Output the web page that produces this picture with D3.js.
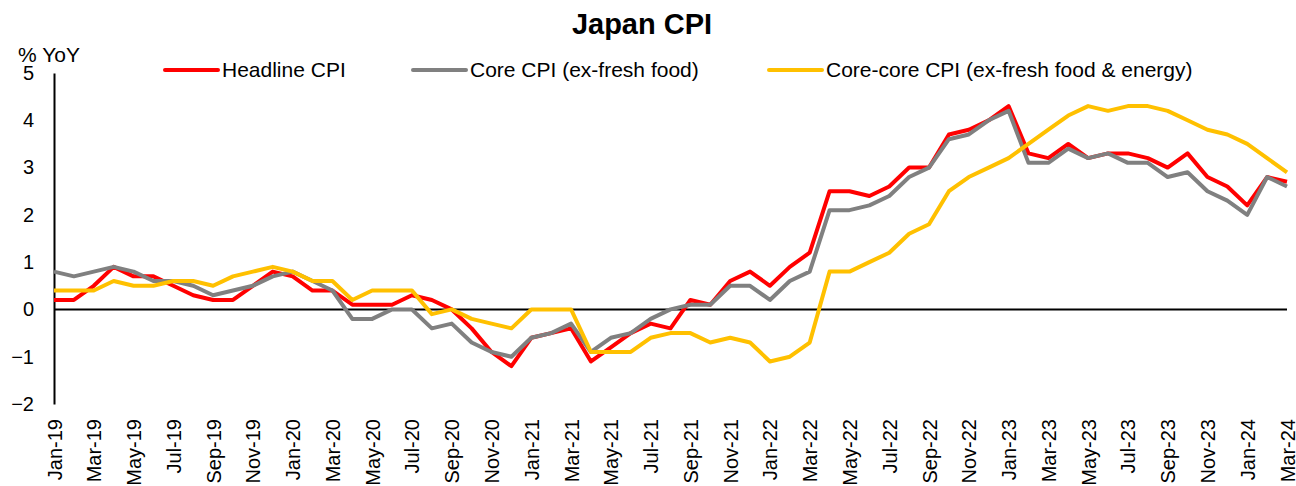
<!DOCTYPE html>
<html>
<head>
<meta charset="utf-8">
<script src="https://cdn.jsdelivr.net/npm/d3@7"></script>
<style>
  body { margin: 0; background: #fff; }
  svg text { font-family: "Liberation Sans", Arial, sans-serif; fill: #000; }
</style>
</head>
<body>
<div id="chart"></div>
<script>
// month labels, Jan-19 .. Mar-24
var months = ["Jan-19","Feb-19","Mar-19","Apr-19","May-19","Jun-19","Jul-19","Aug-19","Sep-19","Oct-19","Nov-19","Dec-19",
  "Jan-20","Feb-20","Mar-20","Apr-20","May-20","Jun-20","Jul-20","Aug-20","Sep-20","Oct-20","Nov-20","Dec-20",
  "Jan-21","Feb-21","Mar-21","Apr-21","May-21","Jun-21","Jul-21","Aug-21","Sep-21","Oct-21","Nov-21","Dec-21",
  "Jan-22","Feb-22","Mar-22","Apr-22","May-22","Jun-22","Jul-22","Aug-22","Sep-22","Oct-22","Nov-22","Dec-22",
  "Jan-23","Feb-23","Mar-23","Apr-23","May-23","Jun-23","Jul-23","Aug-23","Sep-23","Oct-23","Nov-23","Dec-23",
  "Jan-24","Feb-24","Mar-24"];

var headline = [0.2,0.2,0.5,0.9,0.7,0.7,0.5,0.3,0.2,0.2,0.5,0.8,
  0.7,0.4,0.4,0.1,0.1,0.1,0.3,0.2,0.0,-0.4,-0.9,-1.2,
  -0.6,-0.5,-0.4,-1.1,-0.8,-0.5,-0.3,-0.4,0.2,0.1,0.6,0.8,
  0.5,0.9,1.2,2.5,2.5,2.4,2.6,3.0,3.0,3.7,3.8,4.0,
  4.3,3.3,3.2,3.5,3.2,3.3,3.3,3.2,3.0,3.3,2.8,2.6,
  2.2,2.8,2.7];

var core = [0.8,0.7,0.8,0.9,0.8,0.6,0.6,0.5,0.3,0.4,0.5,0.7,
  0.8,0.6,0.4,-0.2,-0.2,0.0,0.0,-0.4,-0.3,-0.7,-0.9,-1.0,
  -0.6,-0.5,-0.3,-0.9,-0.6,-0.5,-0.2,0.0,0.1,0.1,0.5,0.5,
  0.2,0.6,0.8,2.1,2.1,2.2,2.4,2.8,3.0,3.6,3.7,4.0,
  4.2,3.1,3.1,3.4,3.2,3.3,3.1,3.1,2.8,2.9,2.5,2.3,
  2.0,2.8,2.6];

var coreCore = [0.4,0.4,0.4,0.6,0.5,0.5,0.6,0.6,0.5,0.7,0.8,0.9,
  0.8,0.6,0.6,0.2,0.4,0.4,0.4,-0.1,0.0,-0.2,-0.3,-0.4,
  0.0,0.0,0.0,-0.9,-0.9,-0.9,-0.6,-0.5,-0.5,-0.7,-0.6,-0.7,
  -1.1,-1.0,-0.7,0.8,0.8,1.0,1.2,1.6,1.8,2.5,2.8,3.0,
  3.2,3.5,3.8,4.1,4.3,4.2,4.3,4.3,4.2,4.0,3.8,3.7,
  3.5,3.2,2.9];

var seriesNames = ["Headline CPI", "Core CPI (ex-fresh food)", "Core-core CPI (ex-fresh food & energy)"];
var yTicks = [-2, -1, 0, 1, 2, 3, 4, 5];

var colors = ["#ff0000", "#808080", "#ffc000"];
var seriesData = [headline, core, coreCore];

var svgWidth = 1296;
var svgHeight = 486;

var svg = d3.select("#chart")
    .append("svg")
    .attr("width", svgWidth)
    .attr("height", svgHeight);

// plot area edges
var x0 = 54, x1 = 1287, yTop = 73, yBottom = 404;

var xScale = d3.scalePoint()
    .domain(months)
    .range([x0, x1]);

var yScale = d3.scaleLinear()
    .domain([-2, 5])
    .range([yBottom, yTop]);

// title
svg.append("text")
    .attr("x", 642)
    .attr("y", 34)
    .attr("text-anchor", "middle")
    .style("font-size", "29px")
    .style("font-weight", "bold")
    .text("Japan CPI");

// unit label
svg.append("text")
    .attr("x", 18)
    .attr("y", 62)
    .style("font-size", "21px")
    .text("% YoY");

// y axis
var yAxis = svg.append("g")
    .attr("transform", `translate(${x0}, 0)`)
    .call(d3.axisLeft(yScale).tickValues(yTicks).tickSize(0).tickPadding(20).tickFormat(d3.format("d")));
yAxis.select(".domain").attr("stroke", "#000").attr("stroke-width", 2);
yAxis.selectAll("text").style("font-size", "20px").attr("font-family", null);

// x axis labels (every 2nd month), at bottom
var xAxis = svg.append("g")
    .attr("transform", `translate(0, ${yBottom})`)
    .call(d3.axisBottom(xScale).tickValues(months.filter((d, i) => i % 2 === 0)).tickSize(0));
xAxis.select(".domain").remove();
xAxis.selectAll("text")
    .attr("font-family", null)
    .style("font-size", "20px")
    .attr("text-anchor", "end")
    .attr("transform", "rotate(-90)")
    .attr("x", -15)
    .attr("y", 0)
    .attr("dy", "0.35em");

// zero line
svg.append("line")
    .attr("x1", x0)
    .attr("x2", x1)
    .attr("y1", yScale(0))
    .attr("y2", yScale(0))
    .attr("stroke", "#000")
    .attr("stroke-width", 2);

// series lines
var line = d3.line()
    .x((d, i) => xScale(months[i]))
    .y(d => yScale(d));

seriesData.forEach(function(values, k) {
    svg.append("path")
        .datum(values)
        .attr("d", line)
        .attr("fill", "none")
        .attr("stroke", colors[k])
        .attr("stroke-width", 4)
        .attr("stroke-linejoin", "round");
});

// legend
var legendX = [165, 413, 769];
seriesNames.forEach(function(name, k) {
    svg.append("line")
        .attr("x1", legendX[k])
        .attr("x2", legendX[k] + 53)
        .attr("y1", 70)
        .attr("y2", 70)
        .attr("stroke", colors[k])
        .attr("stroke-width", 4)
        .attr("stroke-linecap", "round");
    svg.append("text")
        .attr("x", legendX[k] + 57)
        .attr("y", 77)
        .style("font-size", "21px")
        .text(name);
});
</script>
</body>
</html>
